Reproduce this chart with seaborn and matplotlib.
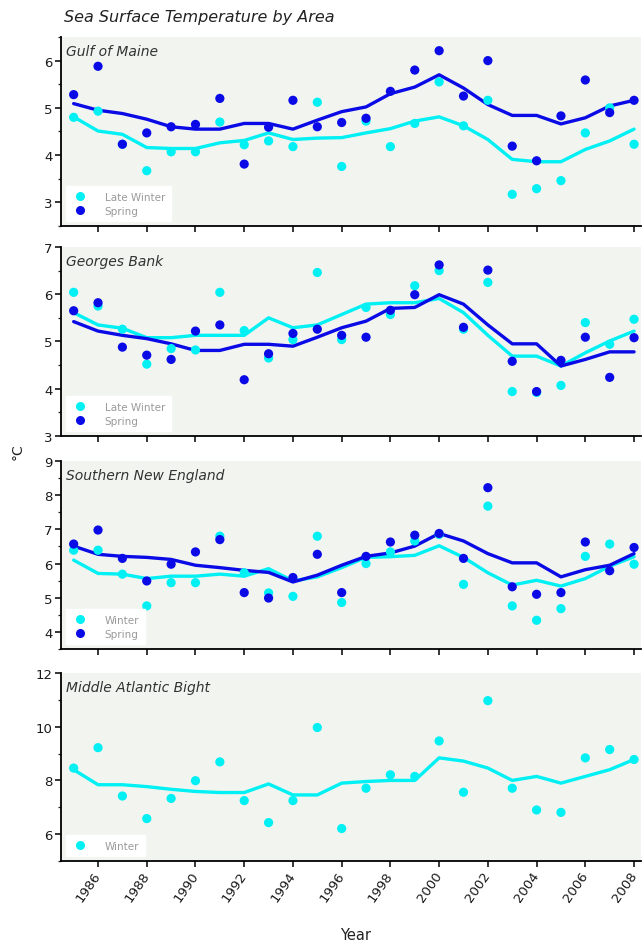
import numpy as np
import pandas as pd
import matplotlib
matplotlib.use("Agg")
import matplotlib.pyplot as plt
from matplotlib.ticker import MultipleLocator
import seaborn as sns

years = list(range(1985, 2009))

# Gulf of Maine
gom_late_winter = [4.80, 4.93, 4.23, 3.67, 4.07, 4.07, 4.70, 4.22, 4.30, 4.18, 5.12, 3.76,
                   4.72, 4.18, 4.67, 5.55, 4.62, 5.16, 3.17, 3.29, 3.46, 4.47, 5.00, 4.23]
gom_spring = [5.28, 5.88, 4.23, 4.47, 4.60, 4.65, 5.20, 3.81, 4.59, 5.16, 4.60, 4.69,
              4.78, 5.35, 5.80, 6.21, 5.25, 6.00, 4.19, 3.88, 4.83, 5.59, 4.90, 5.16]
gom_late_winter_trend = [4.81, 4.51, 4.44, 4.16, 4.14, 4.14, 4.26, 4.31, 4.47, 4.33, 4.36, 4.37,
                         4.47, 4.56, 4.72, 4.81, 4.62, 4.33, 3.91, 3.86, 3.86, 4.12, 4.30, 4.55]
gom_spring_trend = [5.09, 4.95, 4.88, 4.76, 4.60, 4.55, 4.55, 4.67, 4.67, 4.55, 4.74, 4.92,
                    5.02, 5.30, 5.44, 5.70, 5.42, 5.07, 4.84, 4.84, 4.66, 4.79, 5.04, 5.16]

# Georges Bank
gb_late_winter = [6.04, 5.75, 5.26, 4.52, 4.85, 4.82, 6.04, 5.23, 4.65, 5.04, 6.46, 5.04,
                  5.72, 5.57, 6.18, 6.50, 5.26, 6.25, 3.94, 3.92, 4.07, 5.40, 4.94, 5.47]
gb_spring = [5.65, 5.82, 4.88, 4.71, 4.62, 5.22, 5.35, 4.19, 4.74, 5.17, 5.26, 5.13,
             5.09, 5.66, 5.99, 6.62, 5.30, 6.51, 4.58, 3.94, 4.60, 5.09, 4.24, 5.08]
gb_late_winter_trend = [5.61, 5.35, 5.28, 5.08, 5.08, 5.13, 5.13, 5.13, 5.50, 5.29, 5.35, 5.57,
                        5.79, 5.82, 5.82, 5.91, 5.61, 5.13, 4.69, 4.69, 4.48, 4.76, 5.01, 5.22]
gb_spring_trend = [5.42, 5.22, 5.13, 5.06, 4.95, 4.81, 4.81, 4.94, 4.94, 4.90, 5.09, 5.29,
                   5.43, 5.70, 5.72, 5.99, 5.79, 5.35, 4.95, 4.95, 4.48, 4.62, 4.78, 4.78]

# Southern New England
sne_winter = [6.39, 6.39, 5.69, 4.76, 5.44, 5.44, 6.80, 5.73, 5.14, 5.04, 6.80, 4.86,
              6.00, 6.34, 6.66, 6.85, 5.39, 7.68, 4.76, 4.34, 4.68, 6.21, 6.57, 5.98]
sne_spring = [6.57, 6.98, 6.15, 5.49, 5.98, 6.34, 6.70, 5.15, 4.99, 5.59, 6.27, 5.15,
              6.21, 6.63, 6.83, 6.88, 6.15, 8.22, 5.32, 5.10, 5.15, 6.63, 5.79, 6.47]
sne_winter_trend = [6.10, 5.71, 5.69, 5.56, 5.63, 5.63, 5.69, 5.63, 5.85, 5.49, 5.61, 5.88,
                    6.18, 6.20, 6.24, 6.52, 6.18, 5.73, 5.37, 5.51, 5.34, 5.56, 5.92, 6.20]
sne_spring_trend = [6.51, 6.27, 6.21, 6.18, 6.12, 5.95, 5.88, 5.80, 5.74, 5.46, 5.66, 5.95,
                    6.21, 6.31, 6.51, 6.88, 6.66, 6.29, 6.02, 6.02, 5.61, 5.82, 5.95, 6.29]

# Middle Atlantic Bight
mab_winter = [8.46, 9.22, 7.42, 6.58, 7.33, 7.99, 8.69, 7.25, 6.43, 7.25, 9.97, 6.21,
              7.71, 8.21, 8.15, 9.47, 7.56, 10.97, 7.71, 6.90, 6.81, 8.84, 9.15, 8.78]
mab_winter_trend = [8.40, 7.84, 7.84, 7.77, 7.67, 7.59, 7.55, 7.55, 7.87, 7.46, 7.46, 7.90,
                    7.96, 8.00, 8.00, 8.84, 8.72, 8.46, 8.00, 8.15, 7.90, 8.15, 8.40, 8.78]

area_names = ["Gulf of Maine", "Georges Bank", "Southern New England", "Middle Atlantic Bight"]
year_ticks = list(range(1986, 2009, 2))

CYAN = "#00f0f4"
BLUE = "#0a0ae6"
BG = "#f2f4ef"

sns.set_style("ticks")
plt.rcParams["font.family"] = ["DejaVu Sans"]

panels = [
    dict(name=area_names[0], ylim=(2.5, 6.5), major=1, minor=0.5,
         series=[("Late Winter", gom_late_winter, gom_late_winter_trend, CYAN),
                 ("Spring", gom_spring, gom_spring_trend, BLUE)]),
    dict(name=area_names[1], ylim=(3, 7), major=1, minor=0.5,
         series=[("Late Winter", gb_late_winter, gb_late_winter_trend, CYAN),
                 ("Spring", gb_spring, gb_spring_trend, BLUE)]),
    dict(name=area_names[2], ylim=(3.5, 9), major=1, minor=0.5,
         series=[("Winter", sne_winter, sne_winter_trend, CYAN),
                 ("Spring", sne_spring, sne_spring_trend, BLUE)]),
    dict(name=area_names[3], ylim=(5, 12), major=2, minor=1,
         series=[("Winter", mab_winter, mab_winter_trend, CYAN)]),
]

fig = plt.figure(figsize=(6.42, 9.45), dpi=100)
fig.patch.set_facecolor("white")

# axes boxes in figure fractions: (bottom, top)
boxes = [(0.7598, 0.9598), (0.5376, 0.7376), (0.3122, 0.5111), (0.0878, 0.2868)]
left, right = 0.095, 0.999

for i, (p, (b, t)) in enumerate(zip(panels, boxes)):
    ax = fig.add_axes([left, b, right - left, t - b])
    ax.set_facecolor(BG)
    handles = []
    for label, obs, trend, color in p["series"]:
        df = pd.DataFrame({"year": years, "obs": obs, "trend": trend})
        sns.lineplot(data=df, x="year", y="trend", ax=ax, color=color, lw=2.4,
                     legend=False, zorder=2)
    for k, (label, obs, trend, color) in enumerate(p["series"]):
        df = pd.DataFrame({"year": years, "obs": obs})
        sns.scatterplot(data=df, x="year", y="obs", ax=ax, color=color, s=44,
                        edgecolor="none", linewidth=0, legend=False, zorder=3 + k)
        handles.append(plt.Line2D([], [], ls="none", marker="o", ms=6.5,
                                  mfc=color, mec="none", label=label))
    ax.set_xlim(1984.48, 2008.3)
    ax.set_ylim(*p["ylim"])
    ax.yaxis.set_major_locator(MultipleLocator(p["major"]))
    ax.yaxis.set_minor_locator(MultipleLocator(p["minor"]))
    ax.set_xticks(year_ticks)
    ax.set_xlabel("")
    ax.set_ylabel("")
    for side in ("top", "right"):
        ax.spines[side].set_visible(False)
    for side in ("left", "bottom"):
        ax.spines[side].set_linewidth(1.3)
        ax.spines[side].set_color("black")
    ax.tick_params(axis="both", which="major", direction="out", length=4, width=1.1,
                   labelsize=9.5, color="black", labelcolor="#1a1a1a", pad=2)
    ax.tick_params(axis="y", which="minor", direction="out", length=2.5, width=0.9)
    if i < 3:
        ax.set_xticklabels([])
    else:
        ax.set_xticklabels([str(y) for y in year_ticks], rotation=55, ha="right",
                           va="center", rotation_mode="anchor", fontsize=9.5)
        ax.tick_params(axis="x", pad=4)
    ax.text(0.008, 0.965, p["name"], transform=ax.transAxes, ha="left", va="top",
            fontsize=10, style="italic", color="#333333")
    leg = ax.legend(handles=handles, loc="lower left", fontsize=7.5, frameon=True,
                    fancybox=False, borderaxespad=0.45, handletextpad=1.6,
                    borderpad=0.55, labelspacing=0.35, handlelength=1.6,
                    labelcolor="#9a9a9a")
    leg.get_frame().set_facecolor("white")
    leg.get_frame().set_edgecolor("white")
    leg.get_frame().set_alpha(1)

fig.text(0.10, 0.981, "Sea Surface Temperature by Area", ha="left", va="center",
         fontsize=11.5, style="italic", color="#222222")
fig.text(0.028, 0.522, "°C", ha="center", va="center", rotation=90, fontsize=10,
         color="#222222")
fig.text(0.553, 0.010, "Year", ha="center", va="center", fontsize=10.5, color="#222222")

fig.savefig("out.png", dpi=100, facecolor="white")
